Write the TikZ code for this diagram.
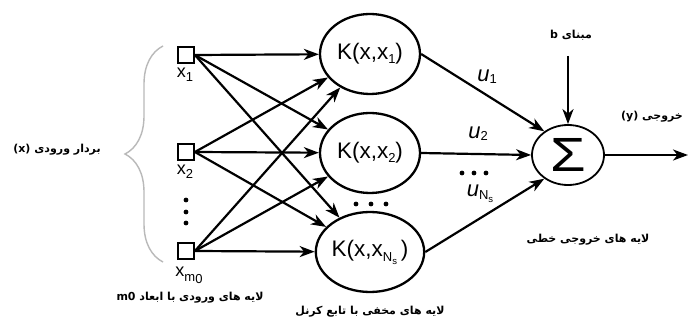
\documentclass[tikz,border=0pt]{standalone}
\usepackage{fontspec}
\setmainfont{Liberation Sans}
\newfontfamily\fa[Script=Arabic]{DejaVu Sans}
\TeXXeTstate=1
\usetikzlibrary{arrows.meta,shapes.geometric,decorations.pathreplacing}
\newcommand{\sbx}[2]{\raisebox{#1}{\fontsize{13}{13}\selectfont #2}}
\begin{document}
\begin{tikzpicture}[x=1pt,y=-1pt,
  inp/.style={draw, line width=1.8pt, minimum size=16pt, inner sep=0pt},
  kern/.style={ellipse, draw, line width=2.3pt, minimum width=100pt, minimum height=80pt, inner sep=0pt, font=\fontsize{22.5}{22.5}\selectfont},
  sumnode/.style={ellipse, draw, line width=1.8pt, minimum width=72pt, minimum height=60pt, inner sep=0pt},
  arr/.style={line width=2.2pt, -{Stealth[length=15pt,width=11pt,inset=4.5pt]}},
  inlbl/.style={font=\fontsize{18}{18}\selectfont, inner sep=0pt},
  ulbl/.style={font=\itshape\fontsize{22}{22}\selectfont, inner sep=0pt},
  fatext/.style={font=\fa\bfseries\fontsize{11}{12}\selectfont, inner sep=0pt},
  dotc/.style={fill=black}
]
\path[fill=white,use as bounding box] (0,0) rectangle (689,323);

% brace
\draw[gray!55, line width=1.4pt, decorate, decoration={brace, amplitude=38pt}] (163,262) -- (163,46);

% input squares
\node[inp] (s1) at (186,55) {};
\node[inp] (s2) at (186,152) {};
\node[inp] (s3) at (186,251) {};
\node[inlbl] (l1) at (185,75) {x\sbx{-4pt}{1}};
\node[inlbl] (l2) at (185,172) {x\sbx{-4pt}{2}};
\node[inlbl] (l3) at (189,275) {x\sbx{-5pt}{m\raisebox{-2pt}{0}}};
\fill[dotc] (186,200) circle (2.4pt) (186,212) circle (2.4pt) (186,223) circle (2.4pt);

% kernel ellipses
\node[kern] (k1) at (370,54) {K(x,x\sbx{-4pt}{1})};
\node[kern] (k2) at (370,153) {K(x,x\sbx{-4pt}{2})};
\node[kern] (k3) at (370,252) {K(x,x\raisebox{-5pt}{\fontsize{13}{13}\selectfont N\raisebox{-3pt}{\fontsize{9.5}{9.5}\selectfont s}}\,)};
\fill[dotc] (356,204) circle (2.4pt) (371,204) circle (2.4pt) (386,204) circle (2.4pt);

% sum node
\node[sumnode] (sig) at (568,155) {\scalebox{1.2}[1]{\fontsize{48}{48}\selectfont Σ}};

% input to kernel arrows
\foreach \i in {1,2,3}{
  \foreach \j in {1,2,3}{
    \draw[arr] (s\i.east) -- (k\j);
  }
}

% kernel to sum
\draw[arr] (k1.east) -- (sig.135);
\draw[arr] (k2.east) -- (sig.west);
\draw[arr] (k3.east) -- (sig.225);
\node[ulbl] (u1) at (487,77) {u\sbx{-2pt}{\upshape 1}};
\node[ulbl] (u2) at (478,134) {u\sbx{-2pt}{\upshape 2}};
\fill[dotc] (462,173) circle (2.4pt) (474,173) circle (2.4pt) (486,173) circle (2.4pt);
\node[ulbl] (u3) at (480,194) {u\raisebox{-3pt}{\upshape\fontsize{13}{13}\selectfont N\raisebox{-3pt}{\fontsize{9.5}{9.5}\selectfont s}}};

% bias and output
\coordinate (bt) at (568,56);
\draw[arr] (bt) -- (sig.north);
\coordinate (yo) at (688,155);
\draw[arr] (sig.east) -- (yo);

% Persian labels
\node[fatext] (tb) at (571,35) {\beginR مبنای \beginL b\endL\endR};
\node[fatext] (ty) at (652,117) {\beginR خروجی \beginL(y)\endL\endR};
\node[fatext] (tx) at (57,150) {\beginR بردار ورودی \beginL(x)\endL\endR};
\node[fatext] (tout) at (588,240) {\beginR لایه های خروجی خطی\endR};
\node[fatext] (tin) at (190,298) {\beginR لایه های ورودی با ابعاد \beginL m0\endL\endR};
\node[fatext] (thid) at (370,312) {\beginR لایه های مخفی با تابع کرنل\endR};
\end{tikzpicture}
\end{document}
